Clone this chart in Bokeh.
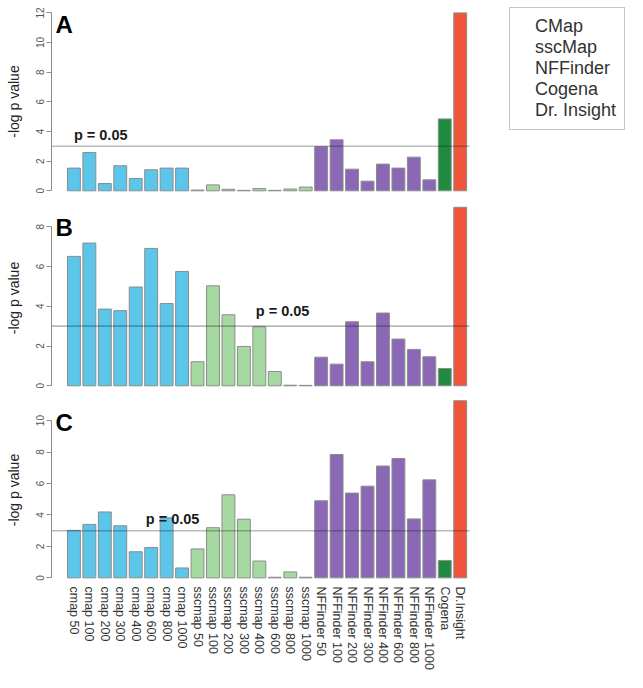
from bokeh.plotting import figure
from bokeh.models import (Range1d, FixedTicker, BoxAnnotation, Label, Legend, LegendItem,
                          ColumnDataSource)
from bokeh.layouts import column
from bokeh.embed import file_html
from bokeh.resources import INLINE

categories = ["cmap 50", "cmap 100", "cmap 200", "cmap 300", "cmap 400", "cmap 600", "cmap 800", "cmap 1000",
              "sscmap 50", "sscmap 100", "sscmap 200", "sscmap 300", "sscmap 400", "sscmap 600", "sscmap 800", "sscmap 1000",
              "NFFinder 50", "NFFinder 100", "NFFinder 200", "NFFinder 300", "NFFinder 400", "NFFinder 600", "NFFinder 800", "NFFinder 1000",
              "Cogena", "Dr.Insight"]
groups = ["CMap"] * 8 + ["sscMap"] * 8 + ["NFFinder"] * 8 + ["Cogena", "Dr. Insight"]
group_names = ["CMap", "sscMap", "NFFinder", "Cogena", "Dr. Insight"]
group_colors = ["#5BC6EA", "#A6D9A1", "#8A68B6", "#1F8B3F", "#EE553A"]

values_A = [1.53, 2.58, 0.49, 1.69, 0.83, 1.42, 1.53, 1.53,
            0.05, 0.40, 0.10, 0.03, 0.15, 0.03, 0.12, 0.25,
            2.97, 3.44, 1.46, 0.65, 1.80, 1.53, 2.27, 0.74,
            4.85, 12.0]
values_B = [6.51, 7.18, 3.86, 3.78, 4.97, 6.91, 4.14, 5.75,
            1.21, 5.03, 3.57, 1.98, 2.97, 0.72, 0.03, 0.02,
            1.44, 1.09, 3.22, 1.21, 3.66, 2.35, 1.83, 1.46,
            0.87, 8.98]
values_C = [3.02, 3.40, 4.19, 3.31, 1.66, 1.93, 3.82, 0.63,
            1.84, 3.19, 5.28, 3.73, 1.07, 0.04, 0.38, 0.04,
            4.90, 7.84, 5.39, 5.83, 7.11, 7.59, 3.75, 6.23,
            1.11, 11.26]

ticks_A = [0, 2, 4, 6, 8, 10, 12]
ticks_B = [0, 2, 4, 6, 8]
ticks_C = [0, 2, 4, 6, 8, 10]

panel_letters = ["A", "B", "C"]
threshold = 3
threshold_label = "p = 0.05"
y_label = "-log p value"

FONT = "Liberation Sans"
W = 632
FRAME_L = 51
X_START, X_LINE_END = -1.45, 25.6
PX_PER_BAR = 15.453
X_END = X_START + (W - FRAME_L) / PX_PER_BAR
color_of = dict(zip(group_names, group_colors))


def make_panel(values, ticks, y_lo, y_hi, height, b_top, b_bottom, letter, letter_y,
               plab_x, plab_y, show_x=False, legend=False):
    p = figure(width=W, height=height, output_backend="svg", toolbar_location=None,
               x_range=Range1d(X_START, X_END), y_range=Range1d(y_lo, y_hi),
               min_border_left=FRAME_L, min_border_right=0,
               min_border_top=b_top, min_border_bottom=b_bottom)
    p.outline_line_color = None
    p.xgrid.visible = False
    p.ygrid.visible = False
    p.background_fill_color = "white"
    p.border_fill_color = "white"

    src = ColumnDataSource(dict(x=list(range(len(categories))), top=values,
                                color=[color_of[g] for g in groups]))
    p.vbar(x="x", top="top", bottom=0, width=1 / 1.2, fill_color="color",
           line_color="#8c8c8c", line_width=1, source=src)

    p.add_layout(BoxAnnotation(left=X_START, right=X_LINE_END, bottom=threshold, top=threshold,
                               fill_alpha=0, line_color="#1a1a1a", line_width=1.6))
    p.add_layout(Label(x=plab_x, y=plab_y, text=threshold_label, text_font=FONT,
                       text_font_size="14.5px", text_font_style="bold", text_color="#1a1a1a",
                       text_align="left", text_baseline="alphabetic"))

    ya = p.yaxis[0]
    ya.ticker = FixedTicker(ticks=ticks)
    ya.bounds = (ticks[0], ticks[-1])
    ya.axis_label = y_label
    ya.axis_label_text_font = FONT
    ya.axis_label_text_font_size = "14px"
    ya.axis_label_text_font_style = "normal"
    ya.axis_label_text_color = "#222222"
    ya.axis_label_standoff = 12
    ya.major_label_orientation = "vertical"
    ya.major_label_text_font = FONT
    ya.major_label_text_font_size = "10px"
    ya.major_label_text_color = "#555555"
    ya.major_label_standoff = 2
    ya.axis_line_color = "#8c8c8c"
    ya.major_tick_line_color = "#8c8c8c"
    ya.major_tick_out = 5
    ya.major_tick_in = 0
    ya.minor_tick_line_color = None

    xa = p.xaxis[0]
    if show_x:
        xa.ticker = FixedTicker(ticks=list(range(len(categories))))
        xa.major_label_overrides = {i: c for i, c in enumerate(categories)}
        xa.major_label_orientation = "vertical"
        xa.major_label_text_font = FONT
        xa.major_label_text_font_size = "12.5px"
        xa.major_label_text_color = "#333333"
        xa.major_label_standoff = 3
        xa.axis_line_color = None
        xa.major_tick_line_color = None
        xa.major_tick_out = 0
        xa.major_tick_in = 0
        xa.minor_tick_line_color = None
    else:
        xa.visible = False

    p.add_layout(Label(x=4, y=letter_y, x_units="screen", y_units="screen", text=letter,
                       text_font=FONT, text_font_size="24px", text_font_style="bold",
                       text_color="#000000", text_align="left", text_baseline="alphabetic"))

    if legend:
        items = []
        for name, col in zip(group_names, group_colors):
            r = p.vbar(x=[], top=[], width=0.8, fill_color=col, line_color=None)
            items.append(LegendItem(label=name, renderers=[r]))
        lg = Legend(items=items, location=(458, 66), label_text_font=FONT,
                    label_text_font_size="18px", label_text_color="#333333",
                    glyph_width=7, glyph_height=7, label_height=19, label_standoff=10,
                    padding=8, spacing=0, margin=0, border_line_color="#8c8c8c",
                    border_line_width=1, background_fill_color="white", background_fill_alpha=1.0)
        p.add_layout(lg)
    return p


pA = make_panel(values_A, ticks_A, -0.384, 12.43, 200, 6, 4, panel_letters[0], 172,
                0.0, 3.75, legend=True)
pB = make_panel(values_B, ticks_B, -0.287, 9.12, 194, 4, 3, panel_letters[1], 164,
                11.77, 3.77)
pC = make_panel(values_C, ticks_C, -0.358, 11.53, 278, 2, 87, panel_letters[2], 161,
                4.65, 3.75, show_x=True)

layout = column(pA, pB, pC, spacing=0)
open("out.html", "w").write(file_html(layout, INLINE))
